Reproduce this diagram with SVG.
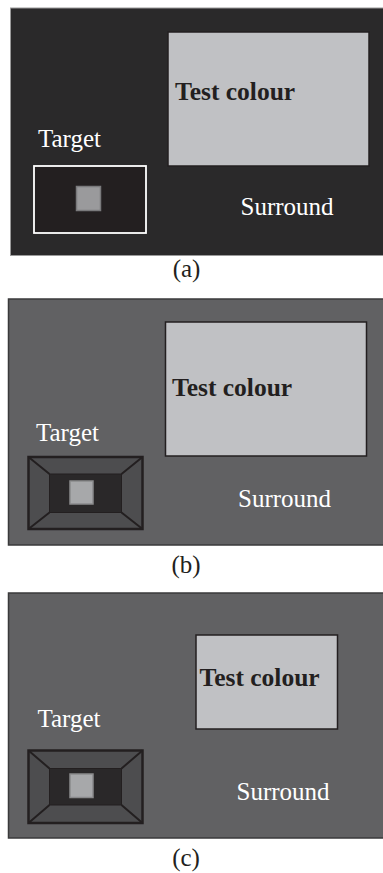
<svg xmlns="http://www.w3.org/2000/svg" width="383" height="873" viewBox="0 0 383 873">
<style>
.lbl{font-family:"Liberation Serif","Times New Roman",serif;font-size:25px;fill:#ffffff}
.tc{font-family:"Liberation Serif","Times New Roman",serif;font-size:25.5px;font-weight:bold;fill:#231f20}
.cap{font-family:"Liberation Serif","Times New Roman",serif;font-size:25px;fill:#231f20;text-anchor:middle}
.test{fill:#c0c1c4;stroke:#231f20;stroke-width:1.5}
.frame{fill:#4d4d4f;stroke:#231f20;stroke-width:2.5}
.inner{fill:#2a2829;stroke:#231f20;stroke-width:1}
.diag{stroke:#231f20;stroke-width:2;fill:none}
.sq{fill:#a7a8aa;stroke:#8a8a8c;stroke-width:1.5}
</style>
<rect width="383" height="873" fill="#ffffff"/>
<g id="panel-a">
<rect x="10.5" y="8" width="380" height="247.5" fill="#2a292a" stroke="#9a9a9a" stroke-width="1"/>
<rect class="test" x="168" y="32" width="201" height="134"/>
<text class="tc" x="175" y="100">Test colour</text>
<text class="lbl" x="38" y="147">Target</text>
<text class="lbl" x="240.5" y="215">Surround</text>
<rect x="34" y="166" width="112" height="67" fill="#231f20" stroke="#ffffff" stroke-width="1.8"/>
<rect x="76.5" y="186.5" width="24" height="24" fill="#9a9a9c" stroke="#7a7a7c" stroke-width="1.5"/>
<text class="cap" x="186.5" y="277">(a)</text>
</g>
<g id="panel-b">
<rect x="8.5" y="299" width="382" height="246" fill="#616163" stroke="#3a3a3b" stroke-width="1.5"/>
<rect class="test" x="165.5" y="322" width="201" height="134"/>
<text class="tc" x="172" y="396">Test colour</text>
<text class="lbl" x="36" y="441">Target</text>
<text class="lbl" x="238" y="507">Surround</text>
<rect class="frame" x="28.5" y="457" width="114" height="72"/>
<path class="diag" d="M28.5 457L49.5 474M142.5 457L121.5 474M28.5 529L49.5 512.5M142.5 529L121.5 512.5"/>
<rect class="inner" x="49.5" y="474" width="72" height="38.5"/>
<rect class="sq" x="70" y="481" width="23" height="23"/>
<text class="cap" x="186" y="573">(b)</text>
</g>
<g id="panel-c">
<rect x="8.5" y="593" width="382" height="245" fill="#616163" stroke="#3a3a3b" stroke-width="1.5"/>
<rect class="test" x="196" y="635" width="141.5" height="94"/>
<text class="tc" x="199.5" y="686">Test colour</text>
<text class="lbl" x="37.5" y="727">Target</text>
<text class="lbl" x="236.5" y="800">Surround</text>
<rect class="frame" x="28.5" y="750.5" width="114" height="72.5"/>
<path class="diag" d="M28.5 750.5L49.5 768.5M142.5 750.5L121.5 768.5M28.5 823L49.5 805M142.5 823L121.5 805"/>
<rect class="inner" x="49.5" y="768.5" width="72" height="36.5"/>
<rect class="sq" x="70" y="774" width="23" height="23.5"/>
<text class="cap" x="186" y="866">(c)</text>
</g>
</svg>
